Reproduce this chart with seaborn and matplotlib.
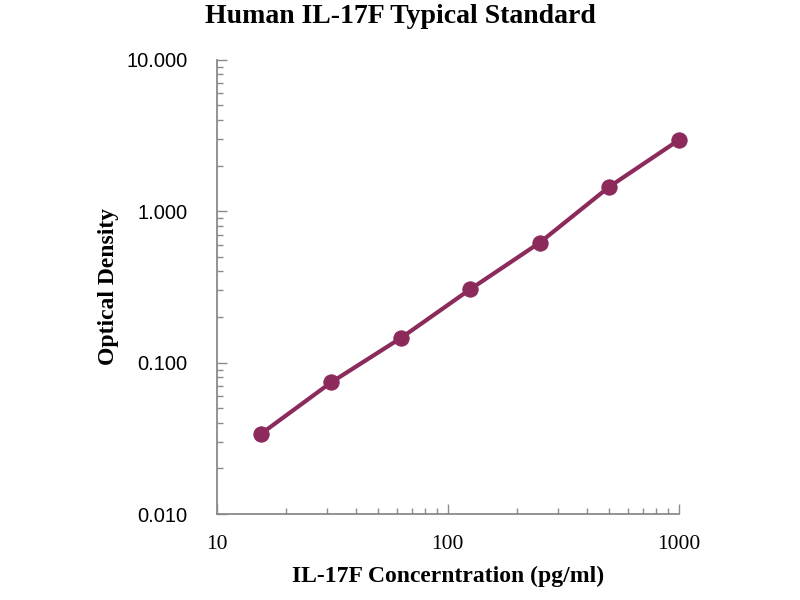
import matplotlib
matplotlib.use("Agg")
import matplotlib.pyplot as plt
import matplotlib.ticker as mticker
import pandas as pd
import seaborn as sns

# Standard curve readings
concentration = [15.6, 31.25, 62.5, 125, 250, 500, 1000]
optical_density = [0.034, 0.074, 0.145, 0.305, 0.62, 1.45, 2.95]

df = pd.DataFrame({"conc": concentration, "od": optical_density})

sns.set_style("white")
plt.rcParams["font.family"] = ["Liberation Serif", "DejaVu Serif"]
plt.rcParams["text.color"] = "black"
plt.rcParams["axes.labelcolor"] = "black"
plt.rcParams["xtick.labelcolor"] = "black"
plt.rcParams["ytick.labelcolor"] = "black"

color = "#8c2a5c"
grey = "#8a8a8a"

fig = plt.figure(figsize=(8, 6), dpi=100)
ax = fig.add_axes([0.271, 0.1433, 0.5775, 0.757])

sns.lineplot(data=df, x="conc", y="od", ax=ax, color=color, linewidth=3.0,
             marker="o", markersize=11, markeredgecolor=color,
             markerfacecolor=color, clip_on=False)

ax.set_xscale("log")
ax.set_yscale("log")
ax.set_xlim(10, 1000)
ax.set_ylim(0.01, 10)

ax.set_yticks([0.01, 0.1, 1, 10])
ax.yaxis.set_major_formatter(mticker.FuncFormatter(lambda v, p: f"{v:.3f}"))
ax.set_xticks([10, 100, 1000])
ax.xaxis.set_major_formatter(mticker.FuncFormatter(lambda v, p: f"{v:.0f}"))

for sp in ["top", "right"]:
    ax.spines[sp].set_visible(False)
for sp in ["left", "bottom"]:
    ax.spines[sp].set_color(grey)
    ax.spines[sp].set_linewidth(1.3)

ax.tick_params(which="both", direction="in", color=grey, width=1)
ax.tick_params(which="major", length=7)
ax.tick_params(which="minor", length=4)
ax.tick_params(axis="y", which="both", left=True, pad=21)
ax.tick_params(axis="x", which="both", bottom=True, pad=15)

for lbl in ax.get_yticklabels():
    lbl.set_family(["Liberation Sans", "DejaVu Sans"])
    lbl.set_fontsize(14.5)
for lbl in ax.get_xticklabels():
    lbl.set_fontsize(15.5)

ax.set_xlabel("IL-17F Concerntration (pg/ml)", fontsize=17, fontweight="bold")
ax.set_ylabel("Optical Density", fontsize=17, fontweight="bold")
ax.xaxis.set_label_coords(0.5, -0.114)
ax.yaxis.set_label_coords(-0.212, 0.5)
fig.suptitle("Human IL-17F Typical Standard", fontsize=20, fontweight="bold",
             x=0.5, y=0.993)

fig.savefig("out.png", dpi=100)
